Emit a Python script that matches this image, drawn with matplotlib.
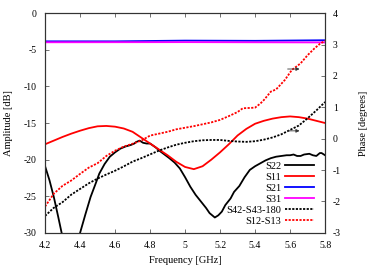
import matplotlib
matplotlib.use("Agg")
import matplotlib.pyplot as plt
import numpy as np

plt.rcParams["font.family"] = ["Liberation Serif", "DejaVu Serif"]
plt.rcParams["font.size"] = 7

# S22 amplitude [dB] (dips below -30 between 4.3 and 4.4 GHz, clipped by the axis)
f_s22 = [4.2, 4.225, 4.25, 4.275, 4.3, 4.32, 4.35, 4.38, 4.4, 4.43, 4.46, 4.49,
         4.51, 4.54, 4.57, 4.6, 4.63, 4.66, 4.69, 4.71, 4.72, 4.74, 4.76, 4.78,
         4.8, 4.83, 4.86, 4.91, 4.94, 4.97, 5.0, 5.03, 5.06, 5.09, 5.12, 5.14,
         5.17, 5.19, 5.21, 5.23, 5.26, 5.28, 5.31, 5.34, 5.37, 5.4, 5.43, 5.46,
         5.49, 5.52, 5.55, 5.58, 5.6, 5.62, 5.64, 5.66, 5.68, 5.71, 5.73, 5.75,
         5.77, 5.78, 5.8]
s22 = [-20.9, -22.8, -25.1, -27.8, -30.6, -33.0, -35.0, -32.0, -30.0, -27.5,
       -25.1, -23.2, -21.9, -20.6, -19.6, -19.0, -18.5, -18.2, -18.0, -17.8,
       -17.6, -17.4, -17.7, -17.8, -17.8, -18.3, -18.9, -19.8, -20.4, -21.2,
       -22.4, -23.7, -24.8, -25.7, -26.6, -27.3, -27.9, -27.6, -27.1, -26.2,
       -25.3, -24.4, -23.6, -22.4, -21.4, -20.9, -20.5, -20.1, -19.8, -19.6,
       -19.5, -19.4, -19.4, -19.3, -19.5, -19.5, -19.3, -19.2, -19.4, -19.5,
       -19.1, -19.1, -19.4]

# S11 amplitude [dB]
f_s11 = [4.2, 4.25, 4.3, 4.35, 4.4, 4.45, 4.5, 4.55, 4.6, 4.65, 4.7, 4.75, 4.8,
         4.85, 4.9, 4.95, 5.0, 5.05, 5.1, 5.15, 5.2, 5.25, 5.3, 5.35, 5.4, 5.45,
         5.5, 5.55, 5.6, 5.65, 5.7, 5.75, 5.8]
s11 = [-17.9, -17.4, -16.9, -16.45, -16.05, -15.7, -15.45, -15.4, -15.5, -15.75,
       -16.2, -17.0, -17.8, -18.6, -19.4, -20.3, -21.0, -21.3, -20.9, -20.0,
       -19.0, -17.9, -16.7, -15.8, -15.1, -14.7, -14.4, -14.2, -14.1, -14.2,
       -14.4, -14.7, -15.0]

# S21 / S31 amplitude [dB]
f_s21 = [4.2, 4.6, 5.0, 5.4, 5.8]
s21 = [-3.85, -3.85, -3.75, -3.78, -3.7]
s31 = [-3.98, -3.97, -3.96, -3.98, -4.0]

# phase differences [degrees]
f_ph = [4.2, 4.25, 4.3, 4.35, 4.4, 4.45, 4.5, 4.55, 4.6, 4.65, 4.7, 4.75, 4.8,
        4.85, 4.9, 4.95, 5.0, 5.05, 5.1, 5.15, 5.2, 5.25, 5.3, 5.35, 5.4, 5.45,
        5.5, 5.55, 5.6, 5.65, 5.7, 5.75, 5.8]
s42_s43 = [-2.46, -2.2, -2.02, -1.78, -1.6, -1.42, -1.27, -1.14, -1.02, -0.88,
           -0.73, -0.62, -0.5, -0.38, -0.28, -0.19, -0.13, -0.08, -0.05, -0.04,
           -0.04, -0.07, -0.09, -0.1, -0.08, -0.03, 0.04, 0.14, 0.28, 0.42, 0.65,
           0.9, 1.17]
f_s12 = [4.2, 4.25, 4.3, 4.35, 4.4, 4.45, 4.5, 4.55, 4.6, 4.65, 4.7, 4.75, 4.8,
         4.85, 4.9, 4.95, 5.0, 5.05, 5.1, 5.15, 5.2, 5.25, 5.3, 5.33, 5.37, 5.4,
         5.43, 5.45, 5.49, 5.52, 5.55, 5.57, 5.61, 5.66, 5.7, 5.74, 5.77, 5.8]
s12_s13 = [-2.16, -1.75, -1.5, -1.33, -1.12, -0.92, -0.78, -0.55, -0.38, -0.25,
           -0.16, -0.06, 0.1, 0.16, 0.22, 0.3, 0.35, 0.4, 0.46, 0.52, 0.6, 0.72,
           0.85, 0.97, 0.98, 0.99, 1.12, 1.23, 1.5, 1.57, 1.75, 1.87, 2.19, 2.4,
           2.66, 2.88, 3.02, 3.12]

xticks = [4.2, 4.4, 4.6, 4.8, 5.0, 5.2, 5.4, 5.6, 5.8]
xticklabels = ["4.2", "4.4", "4.6", "4.8", "5", "5.2", "5.4", "5.6", "5.8"]

fig = plt.figure(figsize=(3.82, 2.68), dpi=100)
ax = fig.add_axes([0.118, 0.131, 0.733, 0.82])
ax2 = ax.twinx()

lw = 1.3
dot = (0, (1.2, 0.8))
h1, = ax.plot(f_s22, s22, color="black", lw=lw, label="S22")
h2, = ax.plot(f_s11, s11, color="#ff0000", lw=lw, label="S11")
h3, = ax.plot(f_s21, s21, color="#0000ff", lw=lw, label="S21")
h4, = ax.plot(f_s21, s31, color="#ff00ff", lw=lw, label="S31")
h5, = ax2.plot(f_ph, s42_s43, color="black", lw=lw, ls=dot, label="S42-S43-180")
h6, = ax2.plot(f_s12, s12_s13, color="#ff0000", lw=lw, ls=dot, label="S12-S13")

ax.set_xlim(4.2, 5.8)
ax.set_ylim(-30, 0)
ax2.set_ylim(-3, 4)
ax.set_xticks(xticks)
ax.set_xticklabels(xticklabels)
ax.set_yticks([-30, -25, -20, -15, -10, -5, 0])
ax.set_yticklabels(["-30", "-25", "-20", "-15", "-10", "-5", "0"])
ax2.set_yticks([-3, -2, -1, 0, 1, 2, 3, 4])
ax2.set_yticklabels(["-3", "-2", "-1", "0", "1", "2", "3", "4"])

ax.tick_params(direction="in", top=True, length=3, width=0.6, color="0.35",
               labelsize=7, pad=6)
ax2.tick_params(direction="in", length=3, width=0.6, color="0.35",
                labelsize=7, pad=5.5)
for a in (ax, ax2):
    for s in a.spines.values():
        s.set_linewidth(0.8)
        s.set_color("0.2")

ax.set_xlabel("Frequency [GHz]", fontsize=7.5, labelpad=4.5)
ax.set_ylabel("Amplitude [dB]", fontsize=7.5, labelpad=7.5)
ax2.set_ylabel("Phase [degrees]", fontsize=7.5, labelpad=13)

# arrows pointing to the phase axis
for yv in [2.22, 0.25]:
    ax2.annotate("", xy=(5.67, yv), xytext=(5.57, yv),
                 arrowprops=dict(arrowstyle="-|>", color="0.2", lw=0.6,
                                 mutation_scale=5))

leg = ax2.legend(handles=[h1, h2, h3, h4, h5, h6], loc="lower right",
                 bbox_to_anchor=(0.985, 0.0), frameon=False, markerfirst=False,
                 fontsize=7.5, handlelength=2.7, handletextpad=0.4,
                 labelspacing=0.16, borderpad=0.2)
for t in leg.get_texts():
    t.set_ha("right")

fig.savefig("out.png", dpi=100)
